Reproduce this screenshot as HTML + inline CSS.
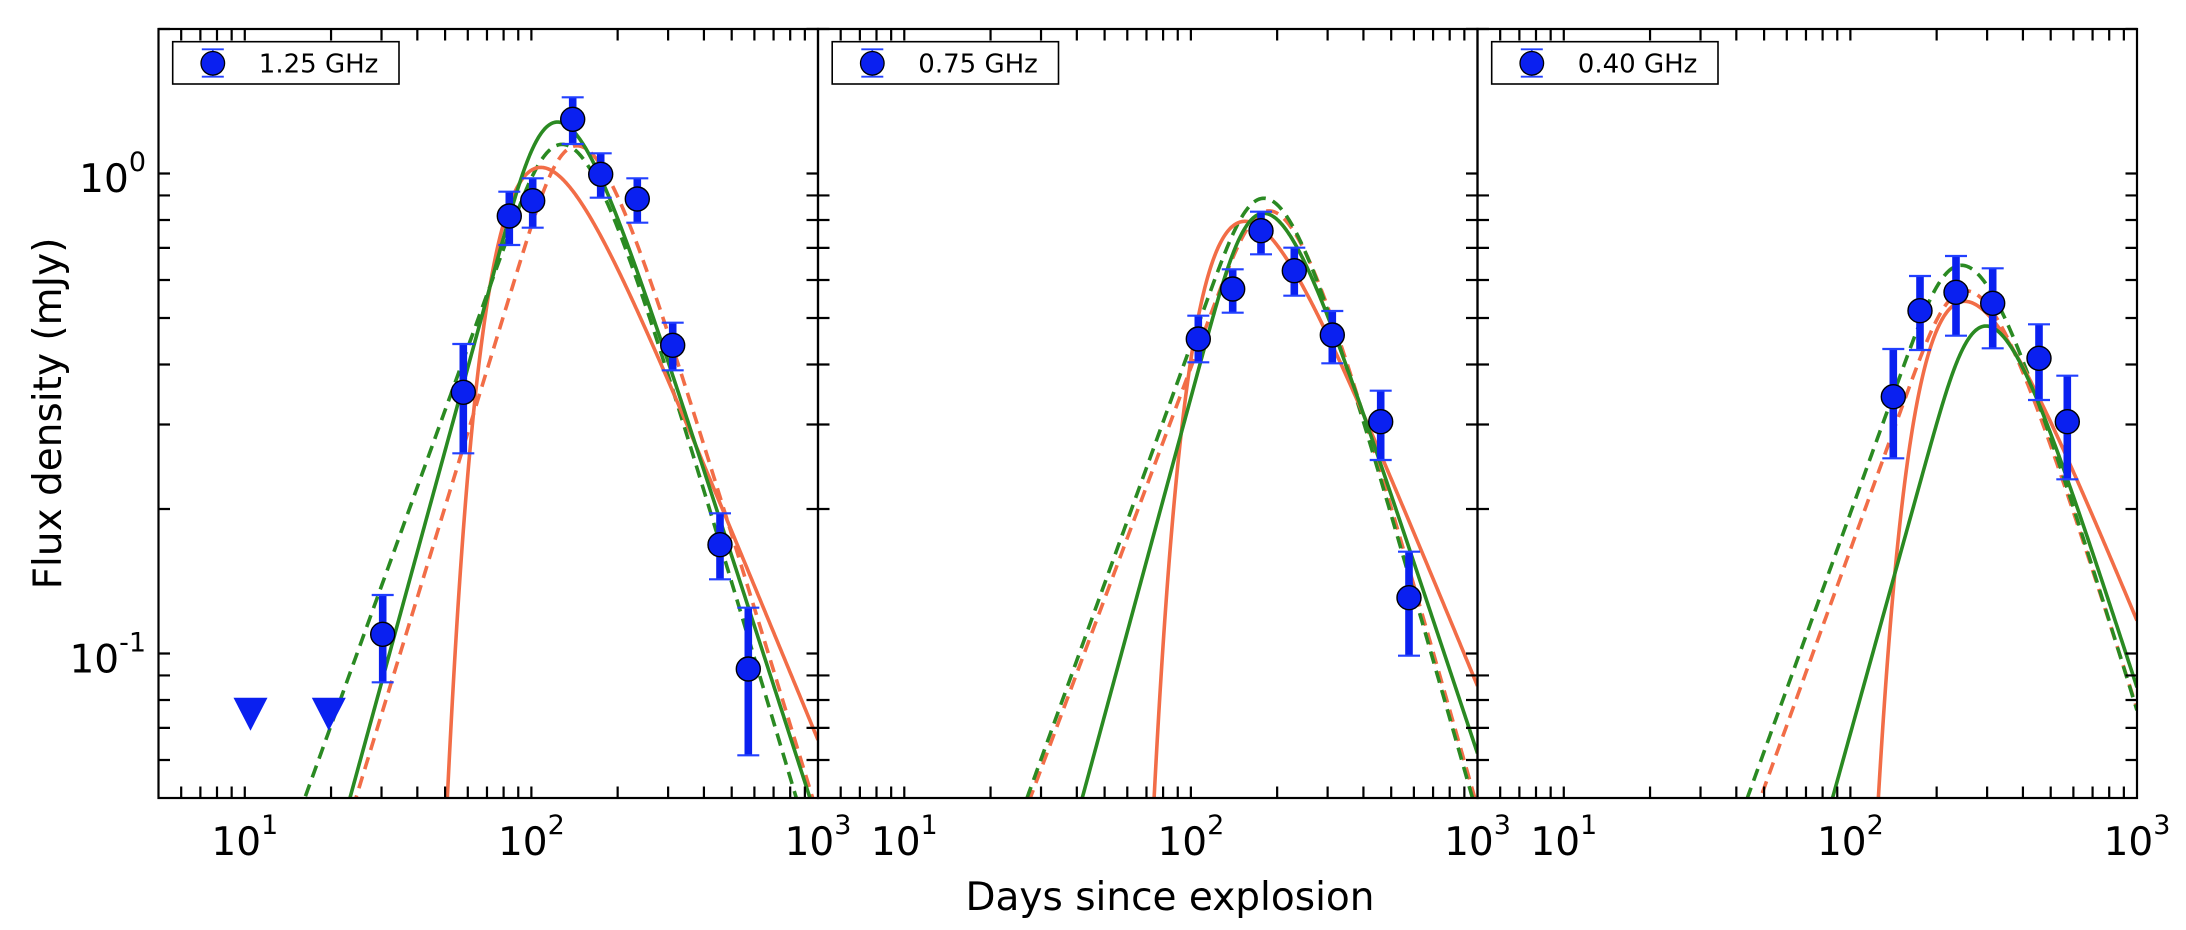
<!DOCTYPE html>
<html><head><meta charset="utf-8">
<style>
html,body{margin:0;padding:0;background:#fff;width:2186px;height:930px;overflow:hidden;}
svg{display:block;}
text{font-family:"DejaVu Sans","Liberation Sans",sans-serif;fill:#000;}
</style></head>
<body>
<svg id="s" width="2186" height="930" viewBox="0 0 2186 930" xmlns="http://www.w3.org/2000/svg">
<defs>
<clipPath id="c0"><rect x="158.5" y="29" width="659.5" height="769"/></clipPath>
<clipPath id="c1"><rect x="818" y="29" width="659.5" height="769"/></clipPath>
<clipPath id="c2"><rect x="1477.5" y="29" width="659.5" height="769"/></clipPath>
</defs>
<rect x="0" y="0" width="2186" height="930" fill="#fff"/>
<g id="curves"></g>
<g id="data"></g>
<g id="axes"></g>

<!-- x tick labels -->
<g font-size="39" text-anchor="middle">
<text x="244.8" y="855">10<tspan font-size="27" dy="-21">1</tspan></text>
<text x="531.4" y="855">10<tspan font-size="27" dy="-21">2</tspan></text>
<text x="818" y="855">10<tspan font-size="27" dy="-21">3</tspan></text>
<text x="904.3" y="855">10<tspan font-size="27" dy="-21">1</tspan></text>
<text x="1190.9" y="855">10<tspan font-size="27" dy="-21">2</tspan></text>
<text x="1477.5" y="855">10<tspan font-size="27" dy="-21">3</tspan></text>
<text x="1563.8" y="855">10<tspan font-size="27" dy="-21">1</tspan></text>
<text x="1850.4" y="855">10<tspan font-size="27" dy="-21">2</tspan></text>
<text x="2137" y="855">10<tspan font-size="27" dy="-21">3</tspan></text>
</g>
<!-- y tick labels -->
<g font-size="39" text-anchor="end">
<text x="146" y="192">10<tspan font-size="27" dy="-21">0</tspan></text>
<text x="146" y="672.5">10<tspan font-size="27" dy="-21">-1</tspan></text>
</g>
<text x="1170" y="910" font-size="39" text-anchor="middle">Days since explosion</text>
<text transform="translate(61,413.5) rotate(-90)" font-size="39" text-anchor="middle">Flux density (mJy)</text>
</svg>
<script>
(function(){
const NS="http://www.w3.org/2000/svg";
const svg=document.getElementById('s');
const gC=document.getElementById('curves'), gD=document.getElementById('data'), gA=document.getElementById('axes');
const L=[158.5,818,1477.5], T=29, B=798, W=659.5, DX=286.6, DY=480, Y0=173.5;
const lg=Math.log10;
function X(p,d){return L[p]+DX*(lg(d)-lg(5));}
function Y(f){return Y0-DY*lg(f);}
function el(tag,attrs,parent){const e=document.createElementNS(NS,tag);for(const k in attrs)e.setAttribute(k,attrs[k]);(parent||svg).appendChild(e);return e;}
function ssa(C,tp,a,b){return t=>{const x=t/tp;return C*Math.pow(x,a)*(-Math.expm1(-Math.pow(x,-(a+b))));};}
function ffa(K,beta,K2){return t=>K*Math.pow(t,beta)*Math.exp(-K2*Math.pow(t,-3));}
const GREEN="#2a8a22", ORANGE="#f26d47";
// [OS, GS, OD, GD]
const curves=[
 [ffa(1480,-1.45,606500), ssa(2.02,127,2.18,1.85), ssa(1.79,153,1.95,1.95), ssa(1.777,141,1.65,2.0)],
 [ffa(1920,-1.45,1.775e6), ssa(1.305,184,2.2,1.8), ssa(1.282,209,1.6,2.1), ssa(1.366,199,1.65,2.1)],
 [ffa(2642,-1.45,7.6e6), ssa(0.759,307,2.15,1.85), ssa(0.884,277,1.65,1.9), ssa(0.997,268,1.65,1.95)]
];
function path(p,F){
  const N=900; let s='';
  for(let i=0;i<=N;i++){
    const d=5*Math.pow(10,2.30103*i/N);
    let f=F(d); if(!(f>1e-6)) f=1e-6;
    let y=Y(f); if(y>815) y=815;
    s+=(i?'L':'M')+X(p,d).toFixed(2)+' '+y.toFixed(2);
  }
  return s;
}
const LW=3.6, DASH='12.5,7.5';
for(let p=0;p<3;p++){
  const g=el('g',{'clip-path':'url(#c'+p+')'},gC);
  const c=curves[p];
  el('path',{d:path(p,c[2]),fill:'none',stroke:ORANGE,'stroke-width':LW,'stroke-dasharray':DASH},g);
  el('path',{d:path(p,c[3]),fill:'none',stroke:GREEN,'stroke-width':LW,'stroke-dasharray':DASH},g);
  el('path',{d:path(p,c[0]),fill:'none',stroke:ORANGE,'stroke-width':LW},g);
  el('path',{d:path(p,c[1]),fill:'none',stroke:GREEN,'stroke-width':LW},g);
}
// data points in screen coords: x, y, ytop, ybot
const pts=[
 [382.7,634.3,595,682.3],[463.3,392.3,344,453.3],[509.3,216,191.7,245],[532.7,200.7,178.3,227.7],
 [572.7,119.3,97.3,144],[600.7,174.3,153.3,197.7],[637.3,199,178.3,222.7],[672.7,345.3,322.7,370.3],
 [720,544.7,513.3,579.3],[748.3,669,607.7,755.3],
 [1198.3,339,315.7,362.3],[1232.7,289,269.3,312.7],[1261,230.7,211.7,254.3],[1294.3,270.7,247.7,295.7],
 [1332.3,335,311,363.3],[1380.7,421.7,390.7,460],[1409,597.7,551.7,655.7],
 [1893.3,396.7,349,458.3],[1920,310.7,276,350],[1956,292.3,256,335.7],[1992.7,303.3,268.3,348.3],
 [2039,358.3,324.3,400],[2067.3,421.7,375.7,479.3]
];
const BLUE="#0a20f0", CAP="#2240ff";
for(const q of pts){
  el('rect',{x:q[0]-3.8,y:q[2],width:7.6,height:q[3]-q[2],fill:BLUE},gD);
  el('path',{d:`M${q[0]-11} ${q[2]}H${q[0]+11}M${q[0]-11} ${q[3]}H${q[0]+11}`,stroke:CAP,'stroke-width':2.2,fill:'none'},gD);
}
for(const q of pts){
  el('circle',{cx:q[0],cy:q[1],r:12,fill:BLUE,stroke:'#000','stroke-width':1.4},gD);
}
// upper-limit triangles
for(const cx of [250.5,328.8]){
  el('polygon',{points:`${cx-17},697.7 ${cx+17},697.7 ${cx},730.7`,fill:BLUE},gD);
}
// axes frames and ticks
let tp='';
const xs=[6,7,8,9,10,20,30,40,50,60,70,80,90,100,200,300,400,500,600,700,800,900];
const ys=[0.06,0.07,0.08,0.09,0.1,0.2,0.3,0.4,0.5,0.6,0.7,0.8,0.9,1,2];
for(let k=0;k<3;k++){
  for(const d of xs){const x=X(k,d).toFixed(2);tp+=`M${x} ${B}V${B-11.5}M${x} ${T}V${T+11.5}`;}
  for(const f of ys){const y=Y(f).toFixed(2);const maj=(f===0.1||f===1);
    if(k===0||!maj) tp+=`M${L[k]} ${y}H${L[k]+11.5}`;
    tp+=`M${L[k]+W} ${y}H${L[k]+W-11.5}`;}
  el('rect',{x:L[k],y:T,width:W,height:B-T,fill:'none',stroke:'#000','stroke-width':2.2},gA);
}
el('path',{d:tp,stroke:'#000','stroke-width':2.2,fill:'none'},gA);
// legends
const labels=['1.25 GHz','0.75 GHz','0.40 GHz'];
for(let k=0;k<3;k++){
  const lx=L[k]+14.2;
  el('rect',{x:lx,y:41.7,width:226.3,height:42.3,fill:'#fff',stroke:'#000','stroke-width':1.6},gA);
  const mx=L[k]+54.3;
  el('path',{d:`M${mx-11} 49.3H${mx+11}M${mx-11} 76.7H${mx+11}M${mx} 49.3V76.7`,stroke:CAP,'stroke-width':1.8,fill:'none'},gA);
  el('circle',{cx:mx,cy:63.3,r:11.8,fill:BLUE,stroke:'#000','stroke-width':1.3},gA);
  const t=el('text',{x:L[k]+100.3,y:72.7,'font-size':26},gA);
  t.textContent=labels[k];
}
})();
</script>
</body></html>
